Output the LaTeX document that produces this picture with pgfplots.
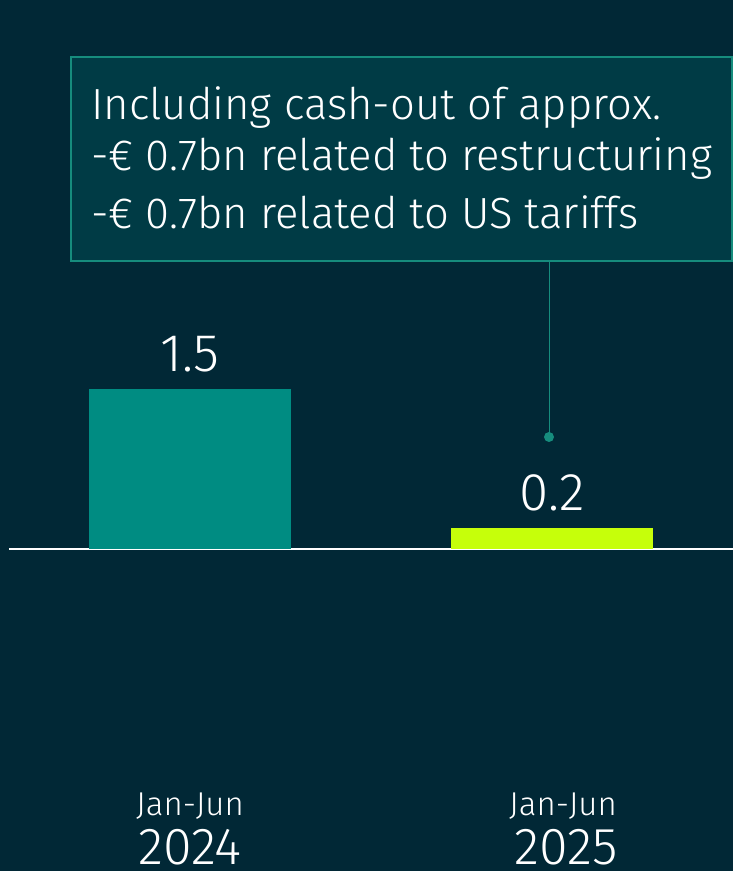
\documentclass[border=0pt]{standalone}
\usepackage{pgfplots}
\pgfplotsset{compat=1.18}
\usepackage{fontspec}
\setmainfont{Fira Sans}[UprightFont=* Light]
\definecolor{bg}{RGB}{1,40,54}
\definecolor{barA}{RGB}{0,140,130}
\definecolor{barB}{RGB}{198,255,10}
\definecolor{boxfill}{RGB}{0,59,69}
\definecolor{boxline}{RGB}{22,140,125}
\begin{document}
\begin{tikzpicture}
\useasboundingbox (0,0) rectangle (366.5pt,435.5pt);
\fill[bg] (0,0) rectangle (366.5pt,435.5pt);
% annotation box
\draw[boxline, fill=boxfill, line width=0.9pt] (35.5pt,305pt) rectangle (366pt,407pt);
\node[anchor=base west, text=white, font=\fontsize{21.8}{26}\selectfont, inner sep=0pt] at (45.5pt,375.5pt) {Including cash-out of approx.};
\node[anchor=base west, text=white, font=\fontsize{21.8}{26}\selectfont, inner sep=0pt] at (45.5pt,350pt) {-€ 0.7bn related to restructuring};
\node[anchor=base west, text=white, font=\fontsize{21.8}{26}\selectfont, inner sep=0pt] at (45.5pt,321pt) {-€ 0.7bn related to US tariffs};
\draw[boxline, line width=0.5pt] (274.5pt,305pt) -- (274.5pt,217pt);
\fill[boxline] (274.5pt,217pt) circle (2.5pt);
\begin{axis}[
  at={(4.5pt,161pt)}, anchor=south west,
  scale only axis, width=362pt, height=106.667pt,
  xmin=-0.5, xmax=1.5, ymin=0, ymax=2,
  hide y axis,
  axis x line=bottom,
  x axis line style={white, line width=1pt, -},
  xtick=\empty,
  clip=false,
  ybar, bar width=101pt, bar shift=0pt,
  nodes near coords,
  /pgf/number format/assume math mode=true,
  /pgf/number format/fixed, /pgf/number format/precision=1,
  nodes near coords style={anchor=base, yshift=8.5pt, text=white, font=\fontsize{26.5}{30}\selectfont},
]
\addplot[draw=none, fill=barA] coordinates {(0,1.5)};
\addplot[draw=none, fill=barB] coordinates {(1,0.2)};
\end{axis}
\node[anchor=base, text=white, font=\fontsize{16.5}{20}\selectfont, inner sep=0pt] at (95pt,27.5pt) {Jan-Jun};
\node[anchor=base, text=white, font=\fontsize{26}{30}\selectfont, inner sep=0pt] at (95pt,3pt) {2024};
\node[anchor=base, text=white, font=\fontsize{16.5}{20}\selectfont, inner sep=0pt] at (281.5pt,27.5pt) {Jan-Jun};
\node[anchor=base, text=white, font=\fontsize{26}{30}\selectfont, inner sep=0pt] at (283pt,3pt) {2025};
\end{tikzpicture}
\end{document}
